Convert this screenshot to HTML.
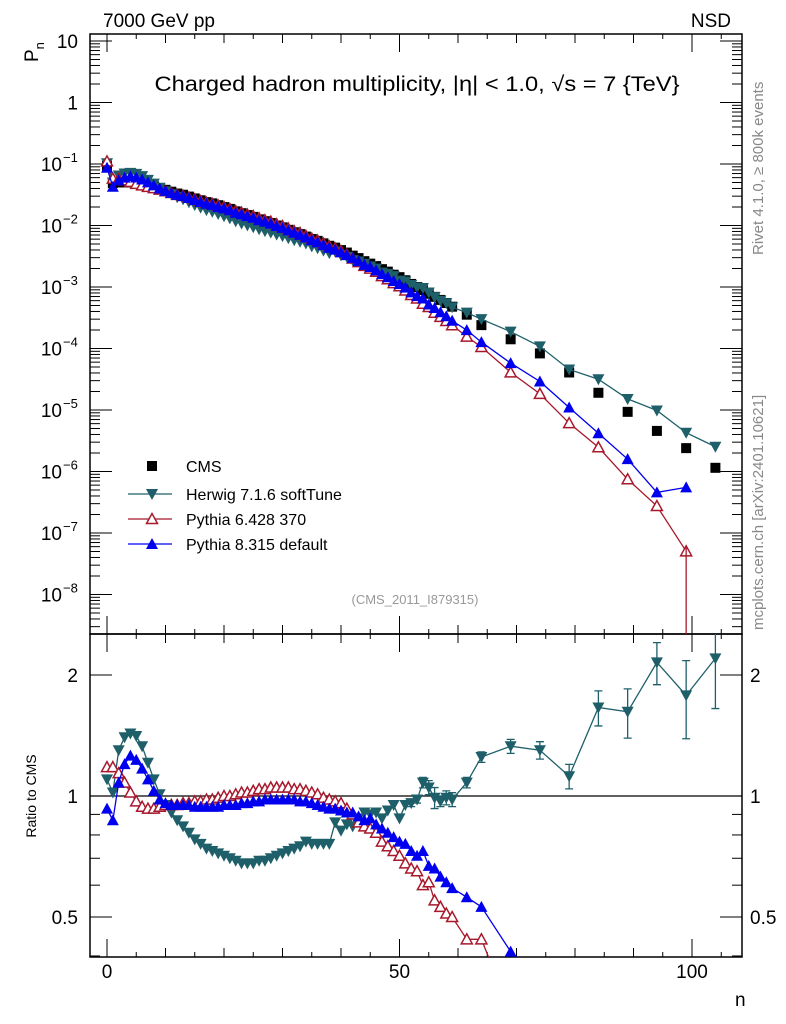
<!DOCTYPE html>
<html><head><meta charset="utf-8"><style>
html,body{margin:0;padding:0;background:#fff;overflow:hidden;width:786px;height:1024px;position:relative;}
svg{display:block;position:absolute;left:0;top:0;font-family:"Liberation Sans",sans-serif;}
</style></head><body>
<svg id="chart" width="786" height="1024" viewBox="0 0 786 1024" xmlns="http://www.w3.org/2000/svg" overflow="hidden">
<defs>
<clipPath id="clipMain"><rect x="90" y="34" width="652" height="600"/></clipPath>
<clipPath id="clipRatio"><rect x="90" y="634" width="652" height="323"/></clipPath>
</defs>
<text x="103" y="27" font-size="19">7000 GeV pp</text>
<text x="731" y="27" font-size="19" text-anchor="end">NSD</text>
<text transform="translate(38,62) rotate(-90)" font-size="19">P<tspan font-size="13" dy="6">n</tspan></text>
<text x="417" y="91" font-size="21" text-anchor="middle" textLength="525" lengthAdjust="spacingAndGlyphs">Charged hadron multiplicity, |η| &lt; 1.0, √s = 7 {TeV}</text>
<text transform="translate(763,255) rotate(-90)" font-size="15" fill="#888">Rivet 4.1.0, ≥ 800k events</text>
<text transform="translate(763,630) rotate(-90)" font-size="15" fill="#888">mcplots.cern.ch [arXiv:2401.10621]</text>
<text x="415" y="604" font-size="13" fill="#999" text-anchor="middle">(CMS_2011_I879315)</text>
<text transform="translate(36,796) rotate(-90)" font-size="14" text-anchor="middle">Ratio to CMS</text>
<text x="735" y="1006" font-size="19">n</text>
<g id="axes"></g>
<g id="series-main" clip-path="url(#clipMain)"></g>
<g id="series-ratio" clip-path="url(#clipRatio)"></g>
<g id="legend"></g>
</svg>
<script>
const nVals = [0,1,2,3,4,5,6,7,8,9,10,11,12,13,14,15,16,17,18,19,20,21,22,23,24,25,26,27,28,29,30,31,32,33,34,35,36,37,38,39,40,41,42,43,44,45,46,47,48,49,50,51,52,53,54,55,56,57,58,59,61.5,64,69,74,79,84,89,94,99,104];
const cmsLog = [-1.03,-1.31,-1.30,-1.30,-1.30,-1.31,-1.32,-1.34,-1.36,-1.39,-1.42,-1.45,-1.48,-1.50,-1.53,-1.56,-1.59,-1.62,-1.64,-1.67,-1.70,-1.73,-1.77,-1.80,-1.83,-1.86,-1.90,-1.93,-1.96,-2.00,-2.03,-2.07,-2.11,-2.14,-2.18,-2.22,-2.25,-2.29,-2.33,-2.36,-2.40,-2.44,-2.49,-2.53,-2.58,-2.62,-2.66,-2.71,-2.75,-2.80,-2.84,-2.89,-2.95,-3.00,-3.05,-3.11,-3.16,-3.21,-3.26,-3.32,-3.45,-3.62,-3.85,-4.08,-4.39,-4.72,-5.03,-5.34,-5.62,-5.94];
const herwigRatio = [1.10,1.02,1.30,1.40,1.43,1.41,1.33,1.21,1.10,1.01,0.95,0.91,0.87,0.84,0.81,0.78,0.76,0.74,0.73,0.72,0.71,0.70,0.69,0.68,0.68,0.68,0.69,0.69,0.70,0.71,0.72,0.73,0.74,0.75,0.77,0.76,0.76,0.76,0.76,0.86,0.82,0.85,0.84,0.88,0.91,0.90,0.91,0.88,0.92,0.95,0.88,0.95,0.96,0.98,1.08,1.05,0.99,0.97,0.99,0.98,1.08,1.25,1.33,1.30,1.12,1.66,1.62,2.15,1.78,2.20];
const herwigErr = [0,0,0,0,0,0,0,0,0,0,0,0,0,0,0,0,0,0,0,0,0,0,0,0,0,0,0,0,0,0,0,0,0,0,0,0,0,0,0,0,0,0,0,0,0,0,0,0,0,0,0,0,0.02,0.02,0.03,0.04,0.06,0.03,0.04,0.04,0.03,0.03,0.04,0.05,0.07,0.1,0.14,0.12,0.22,0.25];
const py6Ratio = [1.18,1.18,1.14,1.08,1.02,0.97,0.94,0.93,0.93,0.94,0.95,0.95,0.95,0.96,0.96,0.97,0.97,0.98,0.98,0.99,1.00,1.00,1.01,1.02,1.02,1.03,1.04,1.04,1.05,1.05,1.05,1.05,1.04,1.04,1.03,1.02,1.01,0.99,0.98,0.97,0.96,0.93,0.90,0.86,0.84,0.83,0.81,0.77,0.75,0.73,0.71,0.68,0.66,0.65,0.60,0.61,0.55,0.53,0.51,0.50,0.44,0.44,0.29,0.22,0.15,0.13,0.08,0.06,0.021,null];
const py8Ratio = [0.93,0.87,1.08,1.20,1.26,1.23,1.17,1.10,1.03,0.98,0.96,0.95,0.95,0.95,0.95,0.94,0.94,0.94,0.94,0.94,0.95,0.95,0.95,0.96,0.96,0.97,0.97,0.98,0.98,0.98,0.98,0.98,0.98,0.97,0.97,0.96,0.95,0.94,0.93,0.93,0.92,0.91,0.91,0.89,0.87,0.88,0.85,0.83,0.81,0.79,0.77,0.76,0.73,0.71,0.73,0.67,0.66,0.63,0.61,0.59,0.56,0.53,0.41,0.35,0.27,0.22,0.17,0.10,0.23,null];
const xTicks = [0,50,100];
const yMainTicks = [1,0,-1,-2,-3,-4,-5,-6,-7,-8];
const yMainLabels = ["10","1","10","10","10","10","10","10","10","10"];
const yMainExp = ["","","−1","−2","−3","−4","−5","−6","−7","−8"];
const yRatioTicks = [2,1,0.5];
const yRatioLabels = ["2","1","0.5"];

const NS="http://www.w3.org/2000/svg";
const L=90,R=742,T=34,MB=634,RB=957;
const xS = n => 107 + n*5.85;
const yM = lg => 41 + (1-lg)*61.5;
const yR = r => 796 - Math.log2(r)*121;
function mk(tag,attrs,parent){const e=document.createElementNS(NS,tag);for(const k in attrs)e.setAttribute(k,attrs[k]);parent.appendChild(e);return e;}
const axes=document.getElementById('axes');
const gM=document.getElementById('series-main');
const gR=document.getElementById('series-ratio');
const gL=document.getElementById('legend');

let f1=mk('rect',{x:L,y:T,width:R-L,height:MB-T,fill:'none',stroke:'#000','stroke-width':1.5},axes);


let f2=mk('rect',{x:L,y:MB,width:R-L,height:RB-MB,fill:'none',stroke:'#000','stroke-width':1.5},axes);


let ul=mk('line',{x1:L,x2:R,y1:yR(1),y2:yR(1),stroke:'#000','stroke-width':1.2},axes);



for(let n=0;n<=105;n+=5){
  const x=xS(n); const len = n%50===0?18:(n%10===0?9:5);
  for(const [yb,dir] of [[T,1],[MB,-1],[MB,1],[RB,-1]]){
    const t=mk('line',{x1:x,x2:x,y1:yb,y2:yb+dir*len,stroke:'#000','stroke-width':1},axes);
    
    
  }
}
xTicks.forEach(v=>{
  const t=mk('text',{x:xS(v),y:978,'font-size':19,'text-anchor':'middle'},axes);
  t.textContent=v;
  
  
});
for(let d=-9;d<=1;d++){
  for(let m=1;m<=9;m++){
    const lg=d+Math.log10(m); const y=yM(lg);
    if(y<T||y>MB) continue;
    const len=m===1?22:10;
    for(const [xb,dir] of [[L,1],[R,-1]]){
      const t=mk('line',{x1:xb,x2:xb+dir*len,y1:y,y2:y,stroke:'#000','stroke-width':1},axes);
      
      
    }
  }
}
yMainTicks.forEach((v,i)=>{
  const t=mk('text',{x:yMainExp[i]?62:78,y:yM(v)+7,'font-size':19,'text-anchor':'end'},axes);
  t.textContent=yMainLabels[i];
  
  
  if(yMainExp[i]){
    const s=mk('text',{x:63,y:yM(v)-2,'font-size':13},axes);
    s.textContent=yMainExp[i];
    
    
  }
});
[0.4,0.5,0.6,0.7,0.8,0.9,1,2].forEach(r=>{
  const y=yR(r); const len=(r===1||r===2||r===0.5)?22:10;
  for(const [xb,dir] of [[L,1],[R,-1]]){
    const t=mk('line',{x1:xb,x2:xb+dir*len,y1:y,y2:y,stroke:'#000','stroke-width':1},axes);
    
    
  }
});
yRatioTicks.forEach((v,i)=>{
  const a=mk('text',{x:78,y:yR(v)+7,'font-size':19,'text-anchor':'end'},axes);
  a.textContent=yRatioLabels[i];
  
  
  const b=mk('text',{x:750,y:yR(v)+7,'font-size':19},axes);
  b.textContent=yRatioLabels[i];
  
  
});

function marker(type,x,y,color,g){
  let e;
  if(type==='sq'){e=mk('rect',{x:x-5,y:y-5,width:10,height:10,fill:color},g);}
  else if(type==='down'){e=mk('polygon',{points:`${x-6},${y-5} ${x+6},${y-5} ${x},${y+6}`,fill:color},g);}
  else if(type==='up'){e=mk('polygon',{points:`${x-6},${y+5} ${x+6},${y+5} ${x},${y-6}`,fill:color},g);}
  else {e=mk('polygon',{points:`${x-5.5},${y+4.5} ${x+5.5},${y+4.5} ${x},${y-5.5}`,fill:'#fff',stroke:color,'stroke-width':1.5},g);}
  return e;
}
const series=[
  {name:'herwig',ratio:herwigRatio,color:'#1e5f6a',type:'down'},
  {name:'pythia6',ratio:py6Ratio,color:'#a8182c',type:'open'},
  {name:'pythia8',ratio:py8Ratio,color:'#0000ee',type:'up'}
];
cmsLog.forEach((lg,i)=>{
  const m=marker('sq',xS(nVals[i]),yM(lg),'#000',gM);
  
  
});
series.forEach(s=>{
  let pm=[],pr=[];
  s.ratio.forEach((r,i)=>{ if(r==null)return;
    pm.push([xS(nVals[i]),yM(cmsLog[i]+Math.log10(r))]);
    pr.push([xS(nVals[i]),yR(r)]);
  });
  const l1=mk('polyline',{points:pm.map(p=>p.join(',')).join(' '),fill:'none',stroke:s.color,'stroke-width':1.3},gM);
  
  
  const l2=mk('polyline',{points:pr.map(p=>p.join(',')).join(' '),fill:'none',stroke:s.color,'stroke-width':1.3},gR);
  
  
  pm.forEach(p=>{const m=marker(s.type,p[0],p[1],s.color,gM);
    
    });
  pr.forEach(p=>{const m=marker(s.type,p[0],p[1],s.color,gR);
    
    });
});
herwigErr.forEach((e,i)=>{
  if(!e)return;
  const r=herwigRatio[i], x=xS(nVals[i]);
  const y1=yR(r+e*r), y2=yR(Math.max(r-e*r,0.05));
  const b=mk('path',{d:`M${x},${y1}V${y2}M${x-4},${y1}h8M${x-4},${y2}h8`,stroke:'#1e5f6a','stroke-width':1.3,fill:'none'},gR);
  
  
});
{const i=68;const x=xS(nVals[i]);
 const b=mk('line',{x1:x,x2:x,y1:yM(cmsLog[i]+Math.log10(py6Ratio[i]))-5,y2:MB,stroke:'#a8182c','stroke-width':1.3},gM);
 
 }

const leg=[['CMS','sq','#000'],['Herwig 7.1.6 softTune','down','#1e5f6a'],['Pythia 6.428 370','open','#a8182c'],['Pythia 8.315 default','up','#0000ee']];
const legY=[466,494,519,544];
leg.forEach((e,i)=>{
  const y=legY[i];
  if(e[1]!=='sq'){const l=mk('line',{x1:128,x2:172,y1:y,y2:y,stroke:e[2],'stroke-width':1.3},gL);
    
    }
  const m=marker(e[1],152,y,e[2],gL);
  
  
  const t=mk('text',{x:186,y:y+6,'font-size':16},gL);
  t.textContent=e[0];
  
  
});
</script>
</body></html>
